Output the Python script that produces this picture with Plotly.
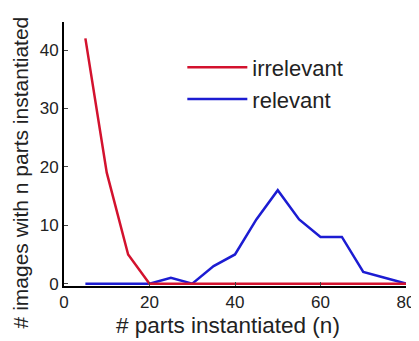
import plotly.graph_objects as go

n_parts = [5, 10, 15, 20, 25, 30, 35, 40, 45, 50, 55, 60, 65, 70, 75, 80]
relevant = [0, 0, 0, 0, 1, 0, 3, 5, 11, 16, 11, 8, 8, 2, 1, 0]
irrelevant = [42, 19, 5, 0, 0, 0, 0, 0, 0, 0, 0, 0, 0, 0, 0, 0]

x_ticks = [0, 20, 40, 60, 80]
y_ticks = [0, 10, 20, 30, 40]
x_title = "# parts instantiated (n)"
y_title = "# images with n parts instantiated"

fig = go.Figure()
fig.add_trace(go.Scatter(x=n_parts, y=relevant, mode="lines", name="relevant",
                         line=dict(color="#1c1cd2", width=2.5)))
fig.add_trace(go.Scatter(x=n_parts, y=irrelevant, mode="lines", name="irrelevant",
                         line=dict(color="#d3122e", width=2.5)))

font = "Liberation Sans, Arial, Helvetica, sans-serif"
fig.update_layout(
    width=411, height=333,
    margin=dict(l=56, r=13, t=14, b=55),
    paper_bgcolor="white", plot_bgcolor="white",
    font=dict(family=font, color="#222", size=14),
    showlegend=True,
    legend=dict(x=0.346, y=0.907, xanchor="left", yanchor="top",
                traceorder="reversed", bgcolor="rgba(0,0,0,0)",
                font=dict(size=22, family=font, color="#222"),
                itemwidth=60, tracegroupgap=13),
    xaxis=dict(range=[0, 80], tickvals=x_ticks, ticks="inside", ticklen=4,
               showline=True, linecolor="black", linewidth=2, showgrid=False,
               zeroline=False, tickfont=dict(size=17), automargin=False),
    yaxis=dict(range=[-0.4, 44.8], tickvals=y_ticks, ticks="inside", ticklen=4,
               showline=True, linecolor="black", linewidth=2, showgrid=False,
               zeroline=False, tickfont=dict(size=17), automargin=False),
    annotations=[
        dict(text=x_title, xref="paper", yref="paper", x=0.48, y=-0.148,
             xanchor="center", yanchor="middle", showarrow=False,
             font=dict(size=22.5, family=font, color="#222")),
        dict(text=y_title, xref="paper", yref="paper", x=-0.126, y=0.43,
             xanchor="center", yanchor="middle", showarrow=False, textangle=-90,
             font=dict(size=21, family=font, color="#222")),
    ],
)
fig.write_html("out.html")
